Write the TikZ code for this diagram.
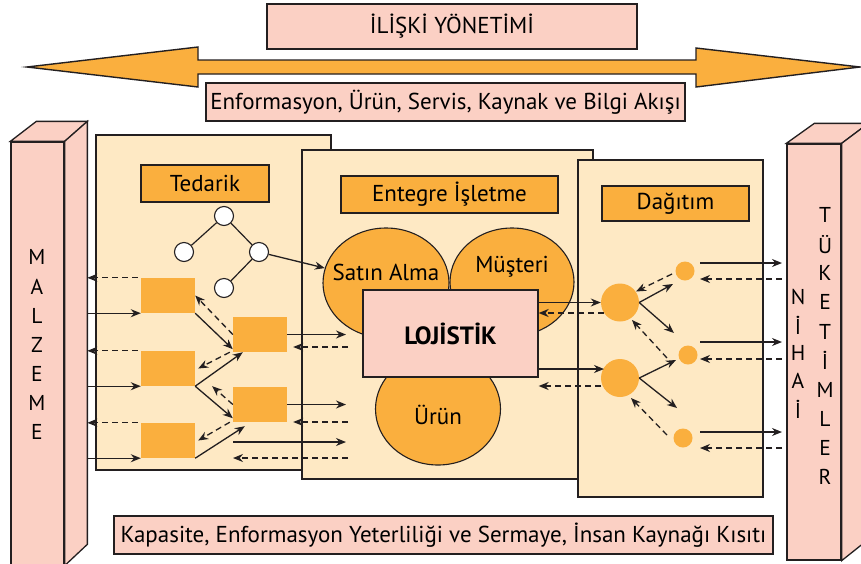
\documentclass[tikz,border=0pt]{standalone}
\usepackage{fontspec}
\setmainfont{PT Sans}
\usetikzlibrary{arrows.meta,shapes.geometric}
\definecolor{pembe}{HTML}{FBD0C4}
\definecolor{turuncu}{HTML}{FAAF3E}
\definecolor{krem}{HTML}{FEE9C4}
\definecolor{cizgi}{HTML}{231F20}
\tikzset{
  panel/.style={draw=cizgi, fill=krem, line width=1.3pt},
  baslik/.style={draw=cizgi, fill=turuncu, line width=1.3pt},
  etiket/.style={draw=cizgi, fill=pembe, line width=1.3pt},
  kutu/.style={fill=turuncu, minimum width=54pt, minimum height=35pt, inner sep=0pt},
  dugum/.style={circle, draw=cizgi, fill=white, line width=1.1pt, minimum size=19pt, inner sep=0pt},
  yuvarlak/.style={circle, fill=turuncu, inner sep=0pt},
  alan/.style={ellipse, draw=cizgi, fill=turuncu, line width=1.1pt, inner sep=0pt},
  ok/.style={-{Stealth[length=10pt,width=8pt]}, line width=1.3pt, draw=cizgi},
  kesik/.style={ok, dash pattern=on 6pt off 4pt},
  harf/.style={font=\fontsize{21.5}{22}\selectfont, inner sep=0pt},
}
\begin{document}
\begin{tikzpicture}[x=1pt, y=-1pt, font=\fontsize{23}{26}\selectfont]
    \useasboundingbox (0,0) rectangle (861,563);
    \clip (0,0) rectangle (861,563);

    % ust kisim
    \node[etiket, minimum width=370pt, minimum height=45pt] (iliski) at (452,26.5) {İLİŞKİ YÖNETİMİ};
    \draw[draw=cizgi, fill=turuncu, line width=1.4pt] (27,67) -- (198,47) -- (198,60) -- (696,60) -- (696,48) -- (860,67)
        -- (696,87) -- (696,74) -- (198,74) -- (198,87) -- cycle;
    \node[etiket, minimum width=479pt, minimum height=38pt] (akis) at (445.5,102) {Enformasyon, Ürün, Servis, Kaynak ve Bilgi Akışı};

    % malzeme
    \node[etiket, minimum width=53pt, minimum height=423pt] (mz) at (37.5,353.5) {};
    \draw[etiket] (mz.north west) -- ++(26,-20) -- ++(51,0) coordinate (mzk) -- (mz.north east) -- cycle;
    \draw[etiket] (mz.north east) -- (mzk) -- ++(0,423) -- (mz.south east) -- cycle;
    \foreach \h [count=\i] in {M,A,L,Z,E,M,E}
        \node[harf] (mh\i) at (37,228+29.2*\i) {\h};

    % nihai tuketimler
    \node[etiket, minimum width=54pt, minimum height=416pt] (tk) at (814,352) {};
    \draw[etiket] (tk.north west) -- ++(28,-20) -- ++(54,0) coordinate (tkk) -- (tk.north east) -- cycle;
    \draw[etiket] (tk.north east) -- (tkk) -- ++(0,416) -- (tk.south east) -- cycle;
    \foreach \h [count=\i] in {N,İ,H,A,İ}
        \node[harf] (nh\i) at (798,269+28*\i) {\h};
    \foreach \h [count=\i] in {T,Ü,K,E,T,İ,M,L,E,R}
        \node[harf] (th\i) at (825,186+29.1*\i) {\h};

    % paneller
    \node[panel, minimum width=235pt, minimum height=335pt] (ptedarik) at (213.5,302.5) {};
    \node[panel, minimum width=291pt, minimum height=329pt] (pentegre) at (447.5,314.5) {};
    \node[panel, minimum width=185pt, minimum height=337pt] (pdagitim) at (670.5,328.5) {};

    \node[baslik, minimum width=128pt, minimum height=37pt] (tedarik) at (205,183.5) {Tedarik};
    \node[baslik, minimum width=217pt, minimum height=37pt] (entegre) at (449.5,194.5) {Entegre İşletme};
    \node[baslik, minimum width=147pt, minimum height=35pt] (dagitim) at (675.5,203.5) {Dağıtım};

    % tedarik
    \node[dugum] (k1) at (224,216) {};
    \node[dugum] (k2) at (184,252) {};
    \node[dugum] (k3) at (259,252) {};
    \node[dugum] (k4) at (224,288) {};
    \draw[line width=1.2pt, cizgi] (k1) -- (k2) (k1) -- (k3) (k3) -- (k4);

    \node[kutu] (l1) at (168,295.5) {};
    \node[kutu] (l2) at (168,368.5) {};
    \node[kutu] (l3) at (168,440.5) {};
    \node[kutu] (r1) at (260,334.5) {};
    \node[kutu] (r2) at (260,404.5) {};

    \foreach \k in {l1,l2,l3} {
        \draw[kesik] ([xshift=-3pt]\k.north west) -- (\k.north west -| mzk);
        \draw[ok] (\k.south west -| mzk) -- (\k.south west);
    }
    \draw[ok] (l1.south east) -- ([yshift=3pt]r1.south west);
    \draw[kesik] (r1.west) -- (l1.east);
    \draw[ok] (l2.south east) -- ([xshift=10pt]r1.south west);
    \draw[kesik] ([xshift=-3pt]r1.south west) -- ([xshift=3pt]l2.east);
    \draw[ok] (l2.south east) -- ([yshift=4pt]r2.south west);
    \draw[kesik] (r2.west) -- ([xshift=17pt]l2.south east);
    \draw[ok] (l3.south east) -- ([xshift=12pt,yshift=-4pt]r2.south west);
    \draw[kesik] ([xshift=-3pt]r2.south west) -- ([xshift=3pt]l3.east);

    \coordinate (gx) at (346,0);
    \coordinate (g1) at (348,347);
    \coordinate (g2) at (348,422);
    \coordinate (u1) at (233,442);
    \coordinate (u2) at (348,458);
    \draw[ok] (r1.east) -- (r1.east -| gx);
    \draw[kesik, shorten >=6pt] (g1) -- (g1 -| r1.east);
    \draw[ok] (r2.east) -- (r2.east -| gx);
    \draw[kesik, shorten >=6pt] (g2) -- (g2 -| r2.east);
    \draw[ok] (u1) -- (u1 -| gx);
    \draw[kesik] (u2) -- (u2 -| u1);

    % entegre isletme
    \node[alan, minimum width=126pt, minimum height=110pt, label={[yshift=11pt]center:Satın Alma}] (satin) at (386,283) {};
    \node[alan, minimum width=124pt, minimum height=108pt, label={[yshift=15pt]center:Müşteri}] (musteri) at (512,282) {};
    \node[alan, minimum width=125pt, minimum height=112pt, label={[yshift=-6pt]center:Ürün}] (urun) at (438,409) {};
    \node[etiket, minimum width=175pt, minimum height=87pt, font=\fontsize{25}{28}\selectfont\bfseries] (lojistik) at (450.5,333.5) {LOJİSTİK};
    \draw[ok] (k3) -- (satin);

    % dagitim
    \node[yuvarlak, minimum size=38pt] (b1) at (620,302.5) {};
    \node[yuvarlak, minimum size=38pt] (b2) at (620,378) {};
    \node[yuvarlak, minimum size=19pt] (s1) at (685,271) {};
    \node[yuvarlak, minimum size=19pt] (s2) at (688,355) {};
    \node[yuvarlak, minimum size=19pt] (s3) at (683,438) {};

    \coordinate (h1) at (604,313);
    \coordinate (h2) at (604,369);
    \coordinate (h3) at (601,386);
    \draw[ok] (lojistik.east |- b1.west) -- (b1.west);
    \draw[kesik] (h1) -- (h1 -| lojistik.east);
    \draw[ok] (h2 -| lojistik.east) -- (h2);
    \draw[kesik] (h3) -- (h3 -| lojistik.east);

    \draw[ok] (b1.east) -- ([shift={(-12,13)}]s1.center);
    \draw[kesik] ([shift={(-13,3)}]s1.center) -- ([shift={(16,-11)}]b1.center);
    \draw[ok] (b1.east) -- ([shift={(-14,-22)}]s2.center);
    \draw[kesik] ([shift={(-21,3)}]s2.center) -- ([shift={(12,17.5)}]b1.center);
    \draw[ok] (b2.east) -- ([shift={(-12,5)}]s2.center);
    \draw[ok] (b2.east) -- ([shift={(-6,-30)}]s3.center);
    \draw[kesik] ([shift={(-16,-3)}]s3.center) -- ([shift={(11,20)}]b2.center);

    \foreach \ya/\yb [count=\i] in {263/279, 342/359, 432/448} {
        \coordinate (c\i) at (700,\ya);
        \coordinate (d\i) at (782,\yb);
        \draw[ok] (c\i) -- (c\i -| d\i);
        \draw[kesik] (d\i) -- (d\i -| c\i);
    }

    % alt kisim
    \node[etiket, minimum width=659pt, minimum height=38pt] (kisit) at (443.5,535) {Kapasite, Enformasyon Yeterliliği ve Sermaye, İnsan Kaynağı Kısıtı};
\end{tikzpicture}
\end{document}
